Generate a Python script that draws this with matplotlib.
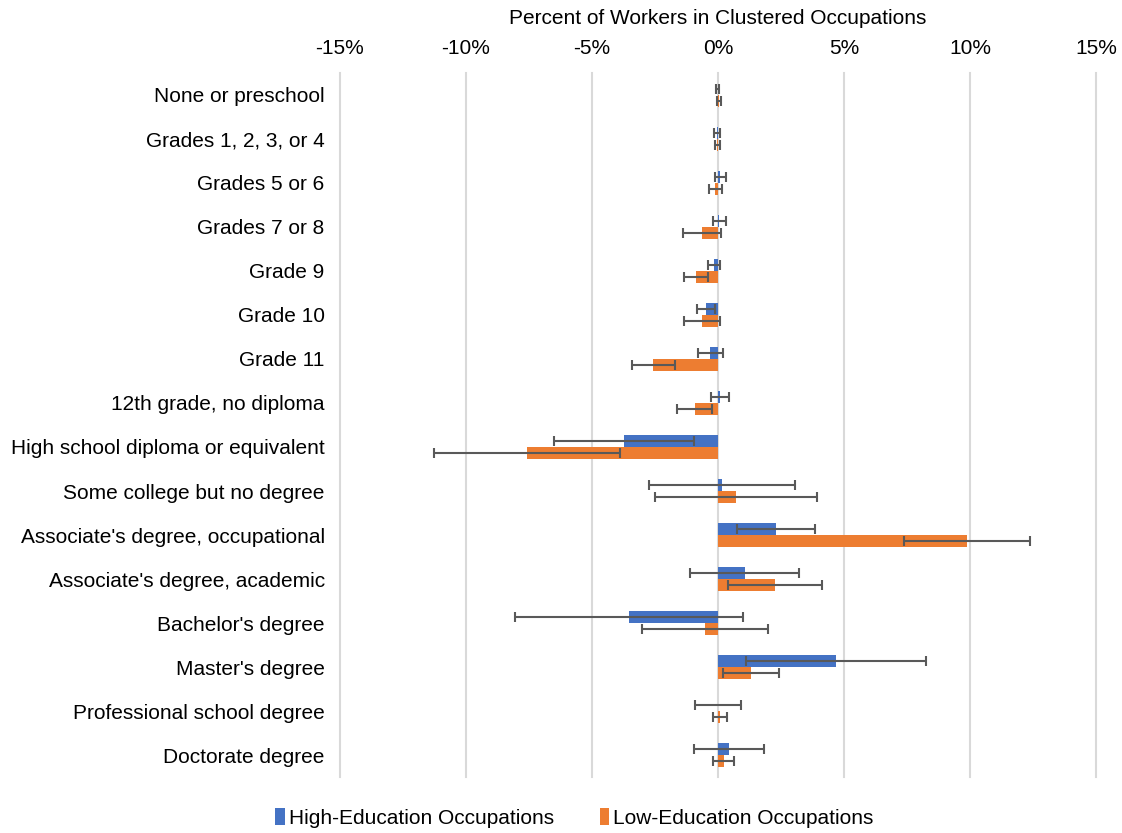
import matplotlib
matplotlib.use("Agg")
import matplotlib.pyplot as plt
import numpy as np
from matplotlib.ticker import FuncFormatter
from matplotlib.patches import Patch

categories = [
    "None or preschool",
    "Grades 1, 2, 3, or 4",
    "Grades 5 or 6",
    "Grades 7 or 8",
    "Grade 9",
    "Grade 10",
    "Grade 11",
    "12th grade, no diploma",
    "High school diploma or equivalent",
    "Some college but no degree",
    "Associate's degree, occupational",
    "Associate's degree, academic",
    "Bachelor's degree",
    "Master's degree",
    "Professional school degree",
    "Doctorate degree",
]

high_edu = [0.00, -0.03, 0.10, 0.05, -0.15, -0.47, -0.30, 0.08, -3.73, 0.15,
            2.30, 1.07, -3.52, 4.68, 0.00, 0.44]
high_err = [0.06, 0.12, 0.21, 0.25, 0.23, 0.35, 0.49, 0.34, 2.79, 2.89,
            1.55, 2.16, 4.52, 3.58, 0.93, 1.38]

low_edu = [0.03, -0.02, -0.10, -0.63, -0.86, -0.64, -2.56, -0.93, -7.58, 0.73,
           9.88, 2.25, -0.51, 1.31, 0.08, 0.23]
low_err = [0.08, 0.10, 0.25, 0.74, 0.48, 0.71, 0.86, 0.68, 3.68, 3.21,
           2.51, 1.86, 2.50, 1.11, 0.27, 0.41]

series_names = ["High-Education Occupations", "Low-Education Occupations"]
blue = "#4472C4"
orange = "#ED7D31"
err_color = "#595959"

plt.rcParams["font.family"] = ["Liberation Sans", "DejaVu Sans"]

fig = plt.figure(figsize=(11.22, 8.33), dpi=100)
ax = fig.add_axes([0.303, 0.0672, 0.6738, 0.8452])

y = np.arange(len(categories))
h = 0.27

ax.barh(y - h / 2, high_edu, height=h, color=blue, zorder=2)
ax.barh(y + h / 2, low_edu, height=h, color=orange, zorder=2)
ax.errorbar(high_edu, y - h / 2, xerr=high_err, fmt="none", ecolor=err_color,
            elinewidth=1.5, capsize=3.6, capthick=1.5, zorder=3)
ax.errorbar(low_edu, y + h / 2, xerr=low_err, fmt="none", ecolor=err_color,
            elinewidth=1.5, capsize=3.6, capthick=1.5, zorder=3)

ax.set_xlim(-15, 15)
ax.set_ylim(len(categories) - 0.5, -0.5)
ax.set_xticks([-15, -10, -5, 0, 5, 10, 15])
ax.xaxis.set_major_formatter(FuncFormatter(lambda v, p: f"{int(v)}%"))
ax.xaxis.tick_top()
ax.xaxis.set_label_position("top")
ax.set_xlabel("Percent of Workers in Clustered Occupations", fontsize=15,
              labelpad=11, color="#000000")
ax.set_yticks(y)
ax.set_yticklabels(categories)
ax.tick_params(axis="both", length=0, labelsize=15, colors="#000000")
ax.tick_params(axis="y", pad=11)
ax.tick_params(axis="x", pad=10.5)

ax.grid(axis="x", color="#D9D9D9", linewidth=1.5, zorder=0)
ax.set_axisbelow(True)
for gl in ax.xaxis.get_gridlines():
    gl.set_clip_on(False)
for s in ax.spines.values():
    s.set_visible(False)

handles = [Patch(facecolor=blue, edgecolor="none"),
           Patch(facecolor=orange, edgecolor="none")]
fig.legend(handles, series_names, loc="center", bbox_to_anchor=(0.512, 0.018),
           ncol=2, frameon=False, fontsize=15, handlelength=0.45,
           handleheight=0.9, handletextpad=0.2, columnspacing=2.2)

fig.savefig("out.png", dpi=100, facecolor="white")
